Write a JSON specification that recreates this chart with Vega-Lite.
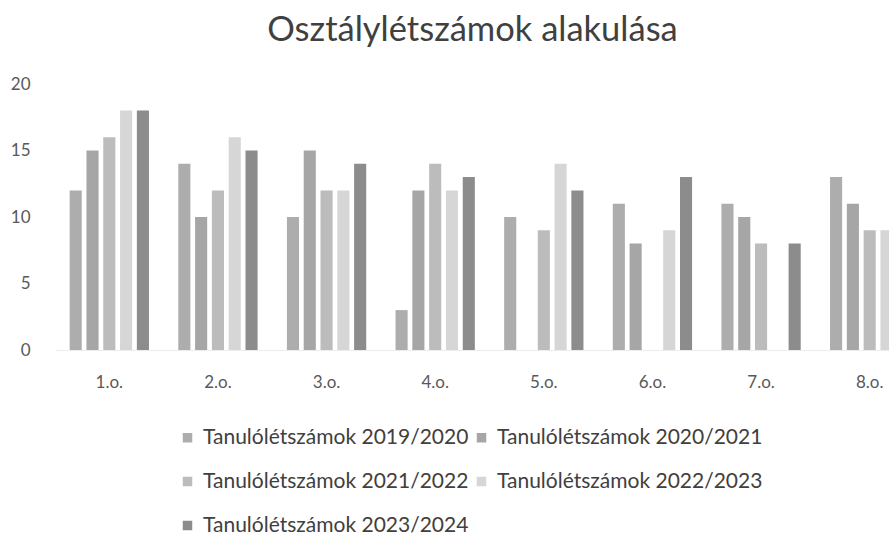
{
  "$schema": "https://vega.github.io/schema/vega-lite/v6.json",
  "autosize": {"type": "none"},
  "padding": {"left": 55, "top": 84, "right": 0, "bottom": 190},
  "width": 869,
  "height": 266,
  "background": "white",
  "title": {
    "text": "Osztálylétszámok alakulása",
    "font": "Lato",
    "fontSize": 34.5,
    "fontWeight": "normal",
    "color": "#404040",
    "anchor": "middle",
    "dx": -17,
    "offset": 27
  },
  "config": {
    "view": {"stroke": null},
    "font": "Lato"
  },
  "data": {
    "values": [
      {"osztaly": "1.o.", "tanev": "Tanulólétszámok 2019/2020", "letszam": 12},
      {"osztaly": "1.o.", "tanev": "Tanulólétszámok 2020/2021", "letszam": 15},
      {"osztaly": "1.o.", "tanev": "Tanulólétszámok 2021/2022", "letszam": 16},
      {"osztaly": "1.o.", "tanev": "Tanulólétszámok 2022/2023", "letszam": 18},
      {"osztaly": "1.o.", "tanev": "Tanulólétszámok 2023/2024", "letszam": 18},
      {"osztaly": "2.o.", "tanev": "Tanulólétszámok 2019/2020", "letszam": 14},
      {"osztaly": "2.o.", "tanev": "Tanulólétszámok 2020/2021", "letszam": 10},
      {"osztaly": "2.o.", "tanev": "Tanulólétszámok 2021/2022", "letszam": 12},
      {"osztaly": "2.o.", "tanev": "Tanulólétszámok 2022/2023", "letszam": 16},
      {"osztaly": "2.o.", "tanev": "Tanulólétszámok 2023/2024", "letszam": 15},
      {"osztaly": "3.o.", "tanev": "Tanulólétszámok 2019/2020", "letszam": 10},
      {"osztaly": "3.o.", "tanev": "Tanulólétszámok 2020/2021", "letszam": 15},
      {"osztaly": "3.o.", "tanev": "Tanulólétszámok 2021/2022", "letszam": 12},
      {"osztaly": "3.o.", "tanev": "Tanulólétszámok 2022/2023", "letszam": 12},
      {"osztaly": "3.o.", "tanev": "Tanulólétszámok 2023/2024", "letszam": 14},
      {"osztaly": "4.o.", "tanev": "Tanulólétszámok 2019/2020", "letszam": 3},
      {"osztaly": "4.o.", "tanev": "Tanulólétszámok 2020/2021", "letszam": 12},
      {"osztaly": "4.o.", "tanev": "Tanulólétszámok 2021/2022", "letszam": 14},
      {"osztaly": "4.o.", "tanev": "Tanulólétszámok 2022/2023", "letszam": 12},
      {"osztaly": "4.o.", "tanev": "Tanulólétszámok 2023/2024", "letszam": 13},
      {"osztaly": "5.o.", "tanev": "Tanulólétszámok 2019/2020", "letszam": 10},
      {"osztaly": "5.o.", "tanev": "Tanulólétszámok 2021/2022", "letszam": 9},
      {"osztaly": "5.o.", "tanev": "Tanulólétszámok 2022/2023", "letszam": 14},
      {"osztaly": "5.o.", "tanev": "Tanulólétszámok 2023/2024", "letszam": 12},
      {"osztaly": "6.o.", "tanev": "Tanulólétszámok 2019/2020", "letszam": 11},
      {"osztaly": "6.o.", "tanev": "Tanulólétszámok 2020/2021", "letszam": 8},
      {"osztaly": "6.o.", "tanev": "Tanulólétszámok 2022/2023", "letszam": 9},
      {"osztaly": "6.o.", "tanev": "Tanulólétszámok 2023/2024", "letszam": 13},
      {"osztaly": "7.o.", "tanev": "Tanulólétszámok 2019/2020", "letszam": 11},
      {"osztaly": "7.o.", "tanev": "Tanulólétszámok 2020/2021", "letszam": 10},
      {"osztaly": "7.o.", "tanev": "Tanulólétszámok 2021/2022", "letszam": 8},
      {"osztaly": "7.o.", "tanev": "Tanulólétszámok 2023/2024", "letszam": 8},
      {"osztaly": "8.o.", "tanev": "Tanulólétszámok 2019/2020", "letszam": 13},
      {"osztaly": "8.o.", "tanev": "Tanulólétszámok 2020/2021", "letszam": 11},
      {"osztaly": "8.o.", "tanev": "Tanulólétszámok 2021/2022", "letszam": 9},
      {"osztaly": "8.o.", "tanev": "Tanulólétszámok 2022/2023", "letszam": 9}
    ]
  },
  "mark": {"type": "bar"},
  "encoding": {
    "x": {
      "field": "osztaly",
      "type": "nominal",
      "sort": null,
      "title": null,
      "scale": {"paddingInner": 0.27, "paddingOuter": 0.135},
      "axis": {
        "labelAngle": 0,
        "labelFont": "Lato",
        "labelFontSize": 17,
        "labelColor": "#595959",
        "labelPadding": 24,
        "ticks": false,
        "domainColor": "#ececec"
      }
    },
    "xOffset": {
      "field": "tanev",
      "type": "nominal",
      "scale": {"paddingInner": 0.28, "paddingOuter": 0}
    },
    "y": {
      "field": "letszam",
      "type": "quantitative",
      "title": null,
      "scale": {"domain": [0, 20], "nice": false},
      "axis": {
        "values": [0, 5, 10, 15, 20],
        "labelFont": "Lato",
        "labelFontSize": 17,
        "labelColor": "#595959",
        "labelPadding": 25,
        "ticks": false,
        "domain": false,
        "grid": false
      }
    },
    "color": {
      "field": "tanev",
      "type": "nominal",
      "scale": {
        "domain": ["Tanulólétszámok 2019/2020", "Tanulólétszámok 2020/2021", "Tanulólétszámok 2021/2022", "Tanulólétszámok 2022/2023", "Tanulólétszámok 2023/2024"],
        "range": ["#adadad", "#a6a6a6", "#bcbcbc", "#d6d6d6", "#8c8c8c"]
      },
      "legend": {
        "title": null,
        "orient": "none",
        "direction": "horizontal",
        "legendX": 122,
        "legendY": 343,
        "columns": 2,
        "symbolType": "square",
        "symbolSize": 90,
        "symbolStrokeWidth": 0,
        "labelFont": "Lato",
        "labelFontSize": 21,
        "labelColor": "#404040",
        "labelLimit": 400,
        "labelOffset": 5,
        "rowPadding": 22,
        "columnPadding": 2
      }
    }
  }
}
